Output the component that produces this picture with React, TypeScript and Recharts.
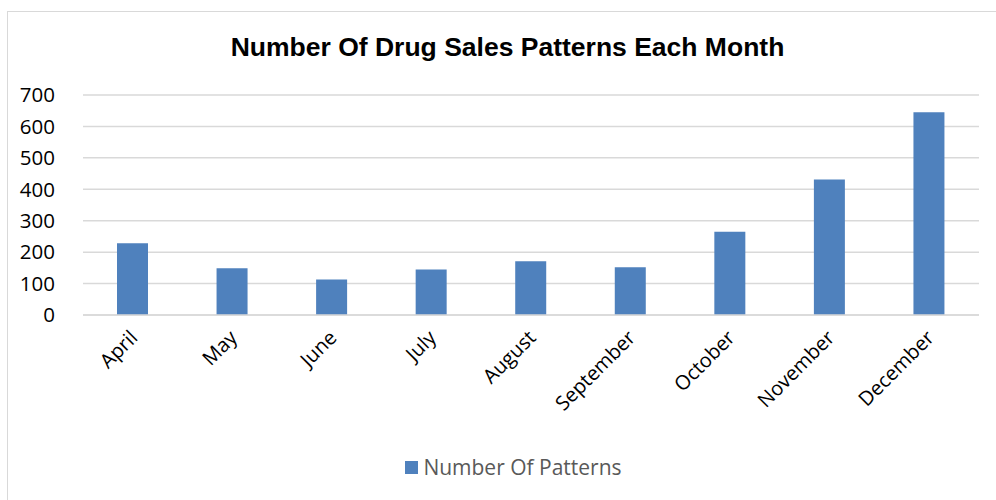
import React from 'react';
import { BarChart, Bar, XAxis, YAxis, CartesianGrid, Legend } from 'recharts';

const months = ['April', 'May', 'June', 'July', 'August', 'September', 'October', 'November', 'December'];
const patterns = [228, 149, 113, 145, 171, 152, 265, 431, 645];
const yTicks = [0, 100, 200, 300, 400, 500, 600, 700];

const data = months.map((m, i) => ({ month: m, value: patterns[i] }));

const XTick = (props: any) => {
  const { x, y, payload } = props;
  return (
    <g transform={`translate(${x + 6},${y + 16})`}>
      <text
        x={0}
        y={0}
        textAnchor="end"
        transform="rotate(-45)"
        fill="#000"
        fontSize={20}
        fontFamily="'Open Sans', sans-serif"
      >
        {payload.value}
      </text>
    </g>
  );
};

const LegendContent = (props: any) => {
  const { payload } = props;
  return (
    <div style={{ display: 'flex', justifyContent: 'center', paddingLeft: 31, height: 28, alignItems: 'center' }}>
      {(payload || []).map((entry: any) => (
        <div key={entry.value} style={{ display: 'flex', alignItems: 'center' }}>
          <svg width={13} height={13} style={{ marginRight: 5 }}>
            <rect x={0} y={0} width={13} height={13} fill={entry.color} />
          </svg>
          <span style={{ color: '#595959', fontSize: 21, fontFamily: "'Open Sans', sans-serif", lineHeight: '28px' }}>
            {entry.value}
          </span>
        </div>
      ))}
    </div>
  );
};

export default function App() {
  return (
    <div style={{ position: 'absolute', left: 0, top: 0, width: 996, height: 500, background: '#fff', overflow: 'hidden' }}>
      <div
        style={{
          position: 'absolute',
          left: 7,
          top: 11,
          width: 1200,
          height: 600,
          borderLeft: '1px solid #d9d9d9',
          borderTop: '1px solid #d9d9d9',
        }}
      />
      <div
        style={{
          position: 'absolute',
          left: 0,
          top: 31,
          width: 1015,
          textAlign: 'center',
          fontFamily: "'Liberation Sans', Arial, sans-serif",
          fontWeight: 'bold',
          fontSize: 26.5,
          color: '#000',
          lineHeight: '32px',
        }}
      >
        Number Of Drug Sales Patterns Each Month
      </div>
      <div style={{ position: 'absolute', left: 0, top: 0 }}>
        <BarChart width={996} height={500} data={data} margin={{ top: 95, right: 17, left: 0, bottom: 19 }}>
          <CartesianGrid vertical={false} stroke="#d9d9d9" strokeWidth={1.5} />
          <XAxis
            dataKey="month"
            axisLine={{ stroke: '#d9d9d9', strokeWidth: 1.5 }}
            tickLine={false}
            interval={0}
            height={138}
            tick={<XTick />}
          />
          <YAxis
            domain={[0, 700]}
            ticks={yTicks}
            width={83}
            axisLine={false}
            tickLine={false}
            tickMargin={22}
            tick={{ fill: '#000', fontSize: 20.5, fontFamily: "'Open Sans', sans-serif" }}
          />
          <Legend
            verticalAlign="bottom"
            align="center"
            wrapperStyle={{ left: 0, width: 996 }}
            content={<LegendContent />}
          />
          <Bar dataKey="value" name="Number Of Patterns" fill="#4f81bd" barSize={31} isAnimationActive={false} />
        </BarChart>
      </div>
    </div>
  );
}
